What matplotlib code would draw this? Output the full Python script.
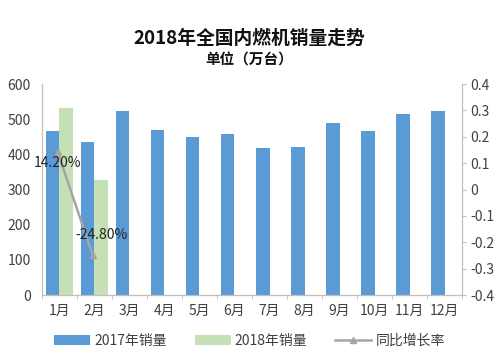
import matplotlib
matplotlib.use("Agg")
import matplotlib.pyplot as plt
import numpy as np

plt.rcParams['font.family'] = ['Noto Sans CJK SC', 'DejaVu Sans']

months = ["1月", "2月", "3月", "4月", "5月", "6月", "7月", "8月", "9月", "10月", "11月", "12月"]
sales_2017 = [466, 435, 523, 470, 450, 459, 417, 421, 488, 467, 515, 523]
sales_2018 = [533, 327]
growth = [0.142, -0.248]
growth_labels = ["14.20%", "-24.80%"]

blue = "#5b9bd5"
green = "#c5e0b4"
gray = "#a5a5a5"
axcol = "#bfbfbf"
txt = "#404040"

fig = plt.figure(figsize=(4.99, 3.56), dpi=100)
ax = fig.add_axes([0.084, 0.171, 0.842, 0.593])
ax2 = ax.twinx()

x = np.arange(len(months))
w = 0.385
ax.bar(x - w / 2, sales_2017, width=w, color=blue, label="2017年销量", zorder=2)
ax.bar(x[:len(sales_2018)] + w / 2, sales_2018, width=w, color=green, label="2018年销量", zorder=2)

ax2.plot(x[:len(growth)] - 0.05, growth, color=gray, lw=1.8, marker="^", ms=4,
         label="同比增长率", zorder=3)
ax2.text(x[0] - 0.05, growth[0] - 0.04, growth_labels[0], ha="center", va="center",
         fontsize=10, color="#222222")
ax2.text(x[1] + 0.2, growth[1] + 0.075, growth_labels[1], ha="center", va="center",
         fontsize=10, color="#222222")

ax.set_xlim(-0.5, len(months) - 0.5)
ax.set_ylim(0, 600)
ax.set_yticks(range(0, 601, 100))
ax2.set_ylim(-0.4, 0.4)
ax2.set_yticks(np.round(np.arange(-0.4, 0.41, 0.1), 1))
ax2.set_yticklabels(["-0.4", "-0.3", "-0.2", "-0.1", "0", "0.1", "0.2", "0.3", "0.4"])

ax.set_xticks(x)
ax.set_xticklabels(months)
ax.set_xticks(np.arange(-0.5, len(months), 1), minor=True)
ax.tick_params(axis="x", which="major", length=0, labelsize=10, colors=txt, pad=6)
ax.tick_params(axis="x", which="minor", length=3, color=axcol)
ax.tick_params(axis="y", length=0, labelsize=10, colors=txt, pad=8)
ax2.tick_params(axis="y", length=3, color=axcol, labelsize=10, colors=txt, pad=3)

for a in (ax, ax2):
    a.spines["top"].set_visible(False)
    for s in ("left", "right", "bottom"):
        a.spines[s].set_color(axcol)

fig.text(0.5, 0.893, "2018年全国内燃机销量走势", ha="center", va="center",
         fontsize=13.5, fontweight="bold", color="#111111")
fig.text(0.5, 0.833, "单位（万台）", ha="center", va="center",
         fontsize=10.5, fontweight="bold", color="#111111")

h1, l1 = ax.get_legend_handles_labels()
h2, l2 = ax2.get_legend_handles_labels()
fig.legend(h1 + h2, l1 + l2, loc="center", bbox_to_anchor=(0.5, 0.042), ncol=3,
           frameon=False, fontsize=10, handlelength=2.6, handleheight=0.7,
           columnspacing=2.0, handletextpad=0.3, labelcolor=txt)

fig.savefig("out.png", dpi=100)
